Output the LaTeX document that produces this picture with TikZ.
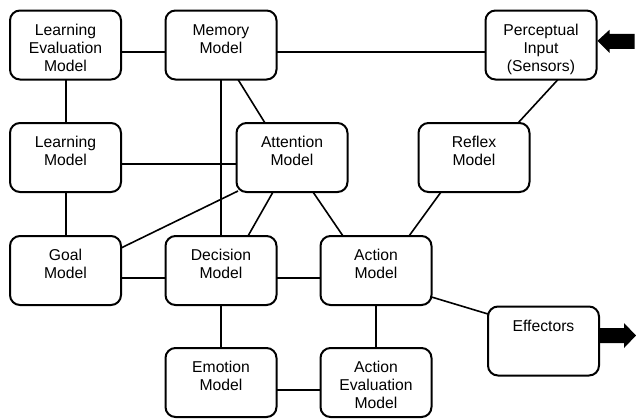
\documentclass[tikz,border=0pt]{standalone}
\usepackage{fontspec}
\setmainfont{Liberation Sans}
\begin{document}
\begin{tikzpicture}[x=1pt,y=-1pt,
  modelbox/.style={draw=black, line width=2pt, rounded corners=10pt,
    inner sep=0pt, outer sep=0pt, fill=white},
  link/.style={draw=black, line width=1.6pt},
  bigarrow/.style={fill=black, draw=none}]
\useasboundingbox (0,0) rectangle (636,418);
\newcommand\boxtext[1]{\parbox[c][69pt][t]{111pt}{\centering
  \fontsize{15.7pt}{18pt}\selectfont\rule{0pt}{24.6pt}#1}}

% boxes
\node[modelbox] (le)   at (65.5,45)    {\boxtext{Learning\\Evaluation\\Model}};
\node[modelbox] (mem)  at (221,45)     {\boxtext{Memory\\Model}};
\node[modelbox] (per)  at (541,45)     {\boxtext{Perceptual\\Input\\(Sensors)}};
\node[modelbox] (lrn)  at (65.5,157.5) {\boxtext{Learning\\Model}};
\node[modelbox] (att)  at (292,157.5)  {\boxtext{Attention\\Model}};
\node[modelbox] (rfx)  at (474,157.5)  {\boxtext{Reflex\\Model}};
\node[modelbox] (goal) at (65.5,270.5) {\boxtext{Goal\\Model}};
\node[modelbox] (dec)  at (221,270.5)  {\boxtext{Decision\\Model}};
\node[modelbox] (act)  at (376,270.5)  {\boxtext{Action\\Model}};
\node[modelbox] (eff)  at (543.5,341)  {\boxtext{Effectors}};
\node[modelbox] (emo)  at (221,382.5)  {\boxtext{Emotion\\Model}};
\node[modelbox] (aev)  at (376,382.5)  {\boxtext{Action\\Evaluation\\Model}};

% horizontal links
\draw[link] ([shift={(0,7)}]le.east)   -- ([shift={(0,7)}]mem.west);
\draw[link] ([shift={(0,7)}]mem.east)  -- ([shift={(0,7)}]per.west);
\draw[link] ([shift={(0,6.5)}]lrn.east)  -- ([shift={(0,6.5)}]att.west);
\draw[link] ([shift={(0,7.5)}]goal.east) -- ([shift={(0,7.5)}]dec.west);
\draw[link] ([shift={(0,7.5)}]dec.east)  -- ([shift={(0,7.5)}]act.west);
\draw[link] ([shift={(0,7.5)}]emo.east)  -- ([shift={(0,7.5)}]aev.west);

% vertical links
\draw[link] ([shift={(0.5,0)}]le.south)  -- ([shift={(0.5,0)}]lrn.north);
\draw[link] ([shift={(0.5,0)}]lrn.south) -- ([shift={(0.5,0)}]goal.north);
\draw[link] (mem.south) -- (dec.north);
\draw[link] (dec.south) -- (emo.north);
\draw[link] (act.south) -- (aev.north);

% slanted links
\draw[link] ([shift={(17,0)}]mem.south)   -- ([shift={(-27,0)}]att.north);
\draw[link] ([shift={(-54,-1)}]att.south) -- ([shift={(0,-22.5)}]goal.east);
\draw[link] ([shift={(-19,0)}]att.south)  -- ([shift={(27,0)}]dec.north);
\draw[link] ([shift={(21,0)}]att.south)   -- ([shift={(-33,0)}]act.north);
\draw[link] ([shift={(17,0)}]per.south)   -- ([shift={(44,0)}]rfx.north);
\draw[link] ([shift={(-33,0)}]rfx.south)  -- ([shift={(33,0)}]act.north);
\draw[link] ([shift={(0,26.5)}]act.east)  -- ([shift={(0,-27)}]eff.west);

% input arrow into the sensors
\coordinate (inTip) at ([shift={(1,-4.2)}]per.east);
\fill[bigarrow] (inTip) -- ++(12,-11) -- ++(0,4) -- ++(25,0) -- ++(0,15)
  -- ++(-25,0) -- ++(0,4) -- cycle;

% output arrow from the effectors
\coordinate (outBase) at ([shift={(1,-5.5)}]eff.east);
\fill[bigarrow] (outBase) ++(0,-7.5) -- ++(24,0) -- ++(0,-5) -- ++(12,12.5)
  -- ++(-12,12.5) -- ++(0,-5) -- ++(-24,0) -- cycle;
\end{tikzpicture}
\end{document}
